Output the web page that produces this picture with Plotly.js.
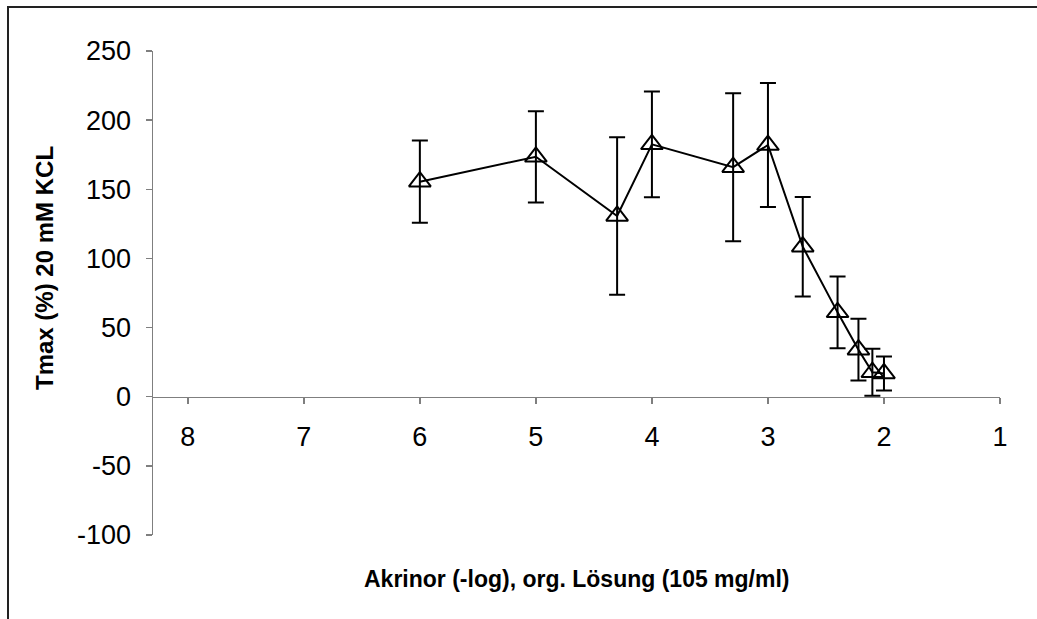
<!DOCTYPE html>
<html>
<head>
<meta charset="utf-8">
<script src="https://cdn.plot.ly/plotly-3.0.1.min.js"></script>
<style>html,body{margin:0;padding:0;background:#fff;}#chart{width:1037px;height:619px;}</style>
</head>
<body>
<div id="chart"></div>
<script>
// Data
var concLog = [6, 5, 4.3, 4, 3.3, 3, 2.7, 2.4, 2.22, 2.1, 2.0];
var tmaxPct = [155.5, 173.5, 130.7, 182.5, 166, 182, 108.5, 61, 34, 17.7, 16.8];
var tmaxErr = [29.7, 33, 57, 38.2, 53.5, 44.8, 36, 26, 22.3, 17, 12.3];
var xTickVals = [8, 7, 6, 5, 4, 3, 2, 1];
var yTickVals = [-100, -50, 0, 50, 100, 150, 200, 250];
var xTitle = 'Akrinor (-log), org. Lösung (105 mg/ml)';
var yTitle = 'Tmax (%) 20 mM KCL';

var W = 1037, H = 619;
var L = 153, R = 1000, T = 51, B = 535;
function px(xp){ return (xp - L) / (R - L); }
function py(yp){ return (B - yp) / (B - T); }

var trace = {
  x: concLog, y: tmaxPct,
  type: 'scatter', mode: 'lines+markers',
  line: {color: '#000', width: 2},
  marker: {symbol: 'triangle-up-open', size: 19, color: '#000', line: {color: '#000', width: 2}},
  error_y: {type: 'data', array: tmaxErr, visible: true, color: '#000', thickness: 2, width: 8},
  hoverinfo: 'skip', showlegend: false
};

var axisColor = '#7f7f7f';
var tickFont = {family: '"Liberation Sans", Arial, sans-serif', size: 27, color: '#000'};
var layout = {
  width: W, height: H,
  margin: {l: L, r: W - R, t: T, b: H - B, pad: 0},
  paper_bgcolor: '#fff', plot_bgcolor: 'rgba(0,0,0,0)',
  showlegend: false,
  xaxis: {
    range: [8.3, 1], tickvals: xTickVals, ticktext: xTickVals.map(String),
    showgrid: false, zeroline: false, showline: true, linecolor: axisColor, linewidth: 1.5,
    ticks: 'outside', ticklen: 6, tickwidth: 1.5, tickcolor: axisColor,
    anchor: 'free', position: (0 - (-100)) / 350,
    tickfont: tickFont, ticklabelstandoff: 9
  },
  yaxis: {
    range: [-100, 250], tickvals: yTickVals, ticktext: yTickVals.map(String),
    showgrid: false, zeroline: false, showline: true, linecolor: axisColor, linewidth: 1.5,
    ticks: 'outside', ticklen: 6, tickwidth: 1.5, tickcolor: axisColor,
    tickfont: tickFont, ticklabelstandoff: 9
  },
  annotations: [
    {text: xTitle, xref: 'paper', yref: 'paper', x: px(577), y: py(579),
     xanchor: 'center', yanchor: 'middle', showarrow: false,
     font: {family: '"Liberation Sans", Arial, sans-serif', size: 23, color: '#000', weight: 'bold'}},
    {text: yTitle, xref: 'paper', yref: 'paper', x: px(44), y: py(268),
     xanchor: 'center', yanchor: 'middle', showarrow: false, textangle: -90,
     font: {family: '"Liberation Sans", Arial, sans-serif', size: 24, color: '#000', weight: 'bold'}}
  ],
  shapes: [
    {type: 'rect', xref: 'paper', yref: 'paper', x0: px(8), x1: px(1045), y0: py(7), y1: py(630),
     line: {color: '#222', width: 2}, fillcolor: 'rgba(0,0,0,0)', layer: 'below'}
  ]
};

Plotly.newPlot('chart', [trace], layout, {displayModeBar: false, staticPlot: true});
</script>
</body>
</html>
